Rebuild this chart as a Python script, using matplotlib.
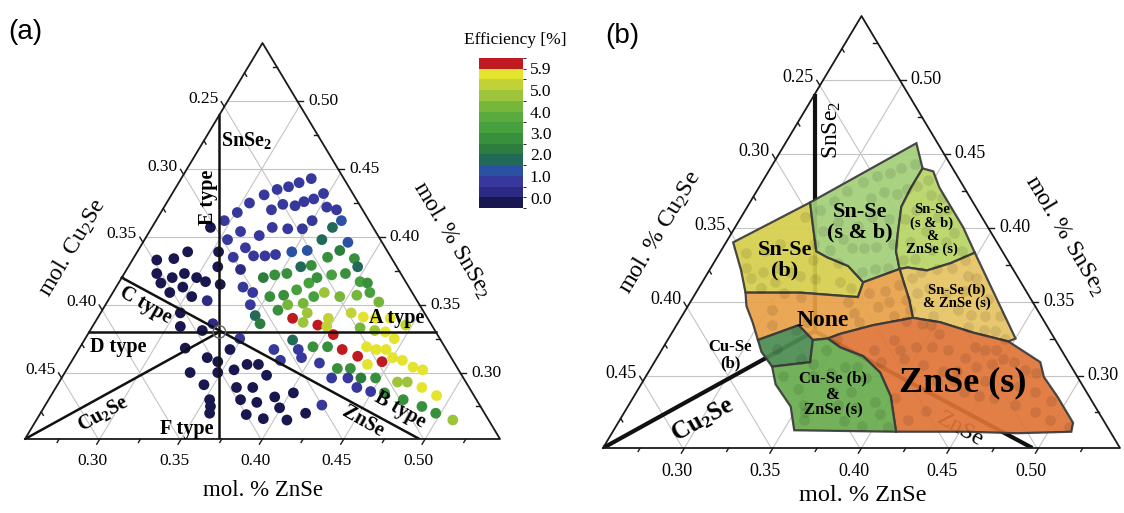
import numpy as np
import matplotlib
matplotlib.use("Agg")
import matplotlib.pyplot as plt
from matplotlib.colors import ListedColormap, BoundaryNorm
from matplotlib.cm import ScalarMappable
from matplotlib.patches import Polygon

plt.rcParams["font.family"] = "serif"
plt.rcParams["font.serif"] = ["Liberation Serif", "DejaVu Serif"]
plt.rcParams["mathtext.fontset"] = "custom"
plt.rcParams["mathtext.rm"] = "Liberation Serif"
plt.rcParams["mathtext.it"] = "Liberation Serif:italic"
plt.rcParams["mathtext.bf"] = "Liberation Serif:bold"

FIG_W, FIG_H = 1124, 513

# visible window of the ternary (mole fractions)
ZN_MIN = 0.254
SN_MIN = 0.251
SPAN = 0.292
CU_MIN = 1.0 - ZN_MIN - SN_MIN - SPAN

# ---------------- panel (a): measured points ----------------
# mol.% ZnSe, mol.% SnSe2 and efficiency (%) of every sample
ZNSE_PCT = [
    33.4, 32.8, 32.3, 31.7, 31.1, 30.5, 30.1, 29.6, 29.0,
    34.7, 34.3, 33.8, 33.4, 32.6, 32.1, 36.1, 35.4, 35.0, 34.7, 33.8, 32.8, 32.3, 31.0, 30.5,
    36.8, 36.5, 36.3, 38.0, 37.8, 35.8, 34.9, 34.0, 33.4, 32.7, 32.4, 31.5,
    33.2, 34.3, 35.0, 35.6, 34.1, 34.7, 35.4, 36.0, 36.6, 37.3, 39.0,
    35.2, 36.0, 36.6, 37.1, 37.4, 38.2, 39.0, 39.5, 40.2, 40.7,
    39.5, 40.5, 41.2, 42.1, 36.2, 36.6, 37.5, 37.9, 38.4,
    37.4, 39.2, 40.5, 41.6, 42.8, 44.5,
    38.2, 39.8, 38.1, 39.6, 40.8, 41.7, 42.5, 43.4, 44.6, 42.9, 43.6, 44.4, 41.9,
    43.0, 43.7, 44.3, 45.0, 45.7, 46.6, 47.3, 43.7, 46.2, 46.8, 47.9, 49.1, 48.6, 49.7, 51.0,
    39.7, 40.6, 42.0, 42.8, 43.8, 44.7, 45.8, 47.2,
    38.2, 38.9, 39.4, 40.7, 42.0, 43.0, 43.9, 44.9, 37.4, 38.2,
    37.9, 39.2, 40.2, 41.7, 40.8, 42.4,
    26.9, 27.9, 28.5, 30.4, 27.4, 28.5, 29.1, 30.0, 30.7, 28.0, 28.9, 29.5, 30.4, 31.5, 30.3, 30.8, 32.3, 32.7,
    34.9, 34.7, 31.9, 33.6, 34.4, 33.1, 34.4, 34.8, 35.7, 36.3, 37.0,
    35.3, 35.6, 35.8, 36.5, 37.2, 37.5, 38.3, 38.1, 39.3,
    30.9, 31.7, 31.9, 34.0, 39.9,
]
SNSE2_PCT = [
    44.3, 44.0, 43.7, 43.5, 43.1, 42.5, 41.8, 41.2, 40.7,
    43.2, 42.8, 42.6, 42.3, 42.4, 42.0, 42.0, 42.2, 41.2, 40.6, 40.6, 40.7, 40.1, 40.4, 39.8,
    41.2, 40.7, 39.8, 39.6, 39.0, 39.0, 38.9, 38.7, 38.6, 38.6, 37.6, 38.5,
    36.3, 35.0, 34.2, 33.6, 37.0, 37.2, 37.3, 37.8, 37.9, 38.5, 38.4,
    35.6, 35.7, 36.1, 36.6, 37.0, 37.2, 37.3, 37.8, 36.7, 36.6,
    35.6, 35.7, 35.9, 35.2, 34.6, 35.0, 35.1, 35.6, 35.9,
    34.0, 33.5, 32.8, 31.7, 31.2, 30.8,
    33.7, 33.4, 34.4, 34.0, 34.4, 34.1, 34.0, 34.0, 33.5, 33.1, 33.0, 32.5, 33.3,
    31.9, 31.7, 31.7, 31.1, 30.9, 30.4, 30.2, 30.6, 29.3, 29.3, 28.9, 28.3, 27.5, 27.0, 26.5,
    31.9, 31.9, 30.3, 30.3, 29.6, 29.6, 28.5, 28.0,
    32.4, 31.7, 31.1, 30.7, 29.6, 29.6, 28.9, 28.6, 31.7, 30.9,
    29.8, 28.2, 28.5, 27.0, 26.5, 27.6,
    38.3, 38.4, 38.9, 38.9, 37.3, 37.0, 37.3, 37.0, 36.7, 36.6, 35.9, 36.3, 35.6, 35.3, 34.4, 33.4, 33.1, 33.6,
    32.5, 31.7, 31.8, 31.1, 30.8, 30.0, 29.1, 30.0, 30.2, 30.6, 30.6,
    28.0, 27.5, 27.0, 28.9, 28.0, 28.9, 27.8, 26.9, 26.6,
    37.8, 36.5, 39.2, 35.9, 27.4,
]
EFFICIENCY = [
    0.7, 0.7, 0.7, 0.7, 0.7, 0.7, 0.7, 0.7, 0.0,
    0.7, 0.7, 0.7, 0.7, 0.7, 0.7, 0.7, 0.7, 0.7, 0.7, 0.7, 0.7, 0.7, 0.7, 0.7,
    1.2, 1.7, 1.7, 1.2, 2.2, 1.2, 1.2, 0.7, 0.7, 0.7, 0.3, 0.7,
    0.7, 0.7, 1.7, 2.2, 2.2, 2.8, 2.8, 1.7, 2.8, 2.8, 2.8,
    2.8, 2.8, 3.3, 3.3, 2.8, 3.3, 2.8, 1.7, 3.3, 2.8,
    4.3, 4.3, 3.3, 4.3, 2.8, 4.3, 4.3, 3.3, 4.8,
    5.9, 5.9, 5.9, 5.9, 5.9, 5.9,
    4.8, 5.2, 4.8, 5.2, 5.2, 5.7, 5.7, 5.7, 5.2, 4.8, 5.7, 5.7, 4.3,
    5.7, 5.7, 5.7, 5.7, 5.7, 5.7, 5.7, 5.7, 4.8, 4.8, 5.7, 5.7, 2.8, 2.8, 4.8,
    2.8, 2.8, 2.8, 2.8, 2.2, 2.8, 2.8, 2.8,
    1.7, 0.7, 0.7, 0.7, 0.7, 0.7, 0.7, 0.7, 0.7, 0.7,
    0.0, 0.0, 0.0, 0.0, 0.0, 0.7,
    0.0, 0.0, 0.0, 0.0, 0.0, 0.0, 0.0, 0.0, 0.0, 0.0, 0.0, 0.0, 0.0, 0.3, 0.0, 0.0, 0.0, 0.3,
    0.7, 0.0, 0.0, 0.0, 0.0, 0.0, 0.0, 0.0, 0.0, 0.0, 0.0,
    0.0, 0.0, 0.0, 0.0, 0.0, 0.0, 0.0, 0.0, 0.0,
    0.0, 0.0, 0.7, 0.7, 0.0,
]

# colour scale of the efficiency
BAND_EDGES = [-0.5, 0.05, 0.5, 1.0, 1.5, 2.0, 2.5, 3.0, 3.5, 4.0, 4.5, 5.0, 5.5, 5.85, 6.5]
BAND_COLORS = ["#18174f", "#2d2a84", "#37389b", "#2b52a2", "#23695a", "#2c7d3e", "#38903c",
               "#46a03e", "#58ab3c", "#77b63c", "#9dc43a", "#c2d236", "#e4e32e", "#be1a1f"]
CB_TICKS = [0.0, 1.0, 2.0, 3.0, 4.0, 5.0, 5.9]

# composition of the stoichiometric point and the type lines (ZnSe, SnSe2)
CENTER = (0.334, 0.330)
LINES_A = [((0.254, 0.330), (0.467, 0.330)),    # D type - A type
           ((0.254, 0.490), (0.3735, 0.251)),   # E type - F type
           ((0.254, 0.370), (0.4965, 0.251)),   # C type - B type
           ((0.254, 0.251), CENTER)]            # Cu2Se
LINES_B = [((0.254, 0.490), CENTER),            # SnSe2
           ((0.254, 0.251), CENTER),            # Cu2Se
           (CENTER, (0.4965, 0.251))]           # ZnSe

# ---------------- panel (b): phase regions (mol.% ZnSe / SnSe2) ----------------
REGION_NAMES = ["Sn-Se (b)", "Sn-Se (s & b)", "Sn-Se (s & b) & ZnSe (s)", "Sn-Se (b) & ZnSe (s)",
                "None", "ZnSe (s)", "Cu-Se (b)", "Cu-Se (b) & ZnSe (s)"]
REGION_ZN = [
    [25.8, 28.8, 29.7, 30.8, 31.6, 33.1, 34.5, 34.7, 31.3, 28.2, 27.2],
    [28.8, 32.8, 34.0, 34.0, 34.1, 34.8, 35.3, 36.1, 34.5, 33.1, 31.6, 30.8, 29.7],
    [34.0, 34.7, 35.6, 36.8, 38.3, 39.8, 38.8, 37.7, 36.5, 36.1, 35.3, 34.8, 34.1, 34.0],
    [36.1, 36.5, 37.7, 38.8, 39.8, 45.0, 44.7, 42.4, 40.2, 38.5, 37.7],
    [28.2, 31.3, 34.7, 34.5, 36.1, 37.7, 38.5, 36.5, 34.9, 34.4, 33.6, 32.3, 30.5, 29.6, 28.7],
    [34.4, 34.9, 36.5, 38.5, 40.2, 42.4, 44.7, 47.2, 47.9, 49.3, 51.1, 51.3, 48.3, 45.4,
     41.4, 39.9, 38.5, 37.0, 35.4],
    [30.5, 32.3, 33.6, 34.2, 32.2, 31.1],
    [33.6, 34.4, 35.4, 37.0, 38.5, 39.9, 41.4, 35.6, 34.6, 33.0, 32.2, 34.2],
]
REGION_SN = [
    [39.0, 41.7, 40.2, 38.4, 38.0, 37.4, 36.3, 35.3, 35.6, 35.6, 37.1],
    [41.7, 45.7, 44.0, 42.7, 41.4, 39.6, 38.4, 37.2, 36.3, 37.4, 38.0, 38.4, 40.2],
    [44.0, 43.8, 42.7, 41.5, 40.0, 38.3, 37.6, 37.1, 37.3, 37.2, 38.4, 39.6, 41.4, 42.7],
    [37.2, 37.3, 37.1, 37.6, 38.3, 32.5, 32.3, 32.9, 33.6, 33.9, 35.1],
    [35.6, 35.6, 35.3, 36.3, 37.2, 35.1, 33.9, 33.4, 32.8, 32.5, 32.4, 33.4, 32.4, 33.6, 34.7],
    [32.5, 32.8, 33.4, 33.9, 33.6, 32.9, 32.3, 30.9, 29.9, 28.6, 26.8, 26.2, 26.1, 26.2,
     26.2, 28.6, 30.2, 31.3, 31.9],
    [32.4, 33.4, 32.4, 30.9, 30.6, 31.6],
    [32.4, 32.5, 31.9, 31.3, 30.2, 28.6, 26.2, 26.3, 27.9, 29.4, 30.6, 30.9],
]
REGION_COLORS = ["#d6cf4c", "#a3cf79", "#b9d565", "#e7c463", "#e9a046",
                 "#df7437", "#4b8a50", "#67ab4c"]


def to_xy(zn, sn):
    zn = np.asarray(zn, dtype=float)
    sn = np.asarray(sn, dtype=float)
    return (zn - ZN_MIN) + 0.5 * (sn - SN_MIN), sn - SN_MIN


def unit(dx, dy):
    n = np.hypot(dx, dy)
    return dx / n, dy / n


def ternary_frame(ax, tick_fs, bottom_off):
    ax.set_xlim(0, SPAN)
    ax.set_ylim(0, SPAN)
    ax.axis("off")
    pos = ax.get_position()
    w_px, h_px = pos.width * FIG_W, pos.height * FIG_H
    kx, ky = SPAN / w_px, SPAN / h_px
    left_out = unit(-w_px / 2, h_px)
    bottom_out = unit(-w_px / 2, -h_px)
    right_out = (1.0, 0.0)

    grid_kw = dict(color="#c4c4c4", lw=0.8, zorder=1)
    for v in [0.30, 0.35, 0.40, 0.45, 0.50]:
        ax.plot(*to_xy([ZN_MIN, 1 - CU_MIN - v], [v, v]), **grid_kw)
        ax.plot(*to_xy([v, v], [SN_MIN, 1 - CU_MIN - v]), **grid_kw)
    for c in [0.25, 0.30, 0.35, 0.40, 0.45]:
        ax.plot(*to_xy([ZN_MIN, 1 - c - SN_MIN], [1 - c - ZN_MIN, SN_MIN]), **grid_kw)

    ax.plot(*to_xy([ZN_MIN, ZN_MIN + SPAN, ZN_MIN, ZN_MIN],
                   [SN_MIN, SN_MIN, SN_MIN + SPAN, SN_MIN]),
            color="#1a1a1a", lw=1.3, zorder=6, clip_on=False)

    def tick(x0, y0, d, length):
        ax.plot([x0, x0 + d[0] * length * kx], [y0, y0 + d[1] * length * ky],
                color="#1a1a1a", lw=1.0, zorder=6, clip_on=False)

    steps = np.round(np.arange(0.225, 0.53, 0.025), 3)
    for v in steps:
        major = int(round(v * 1000)) % 50 == 0
        lab = f"{v:.2f}"
        # left edge: Cu2Se
        if 0.22 <= v <= 0.48:
            x0, y0 = to_xy(ZN_MIN, 1 - v - ZN_MIN)
            if major:
                tick(x0, y0, left_out, 6)
                ax.annotate(lab, (x0, y0), xytext=(-6, 8), textcoords="offset pixels",
                            ha="right", va="center", fontsize=tick_fs)
            else:
                tick(x0, y0, (-left_out[0], -left_out[1]), 4)
        if 0.27 <= v <= 0.53:
            # right edge: SnSe2
            x0, y0 = to_xy(1 - CU_MIN - v, v)
            if major:
                tick(x0, y0, right_out, 6)
                ax.annotate(lab, (x0, y0), xytext=(11, 0), textcoords="offset pixels",
                            ha="left", va="center", fontsize=tick_fs)
            else:
                tick(x0, y0, (-1.0, 0.0), 4)
            # bottom edge: ZnSe
            x0, y0 = to_xy(v, SN_MIN)
            tick(x0, y0, bottom_out, 6 if major else 4)
            if major:
                ax.annotate(lab, (x0, y0), xytext=bottom_off, textcoords="offset pixels",
                            ha="center", va="center", fontsize=tick_fs)


fig = plt.figure(figsize=(FIG_W / 100, FIG_H / 100), dpi=100)
ax_a = fig.add_axes([25 / FIG_W, 74 / FIG_H, 475 / FIG_W, 396 / FIG_H])
ax_b = fig.add_axes([603 / FIG_W, 65 / FIG_H, 517 / FIG_W, 432 / FIG_H])

cmap = ListedColormap(BAND_COLORS)
norm = BoundaryNorm(BAND_EDGES, cmap.N)
pts_x, pts_y = to_xy(np.array(ZNSE_PCT) / 100, np.array(SNSE2_PCT) / 100)

# ---------------- (a) ----------------
ternary_frame(ax_a, 12.5, (-7, -22))
ax_a.scatter(pts_x, pts_y, c=EFFICIENCY, cmap=cmap, norm=norm, s=60, linewidths=0,
             zorder=3, clip_on=False)
for p, q in LINES_A:
    ax_a.plot(*to_xy([p[0], q[0]], [p[1], q[1]]), color="#111111", lw=1.8, zorder=4)
cx, cy = to_xy(*CENTER)
ax_a.scatter([cx], [cy], s=80, facecolors="none", edgecolors="#666666", lw=1.0, zorder=5)

bold = dict(fontweight="bold", fontsize=14.5, ha="center", va="center", zorder=7)
ax_a.text(0.467, 0.755, r"SnSe$_\mathbf{2}$", transform=ax_a.transAxes, **bold)
ax_a.text(0.385, 0.611, "E type", rotation=90, transform=ax_a.transAxes, **bold)
ax_a.text(0.253, 0.338, "C type", rotation=-29.5, transform=ax_a.transAxes, **bold)
ax_a.text(0.196, 0.232, "D type", transform=ax_a.transAxes, **bold)
ax_a.text(0.164, 0.063, r"Cu$_\mathbf{2}$Se", rotation=28.7, transform=ax_a.transAxes, **bold)
ax_a.text(0.341, 0.025, "F type", transform=ax_a.transAxes, **bold)
ax_a.text(0.783, 0.306, "A type", transform=ax_a.transAxes, **bold)
ax_a.text(0.789, 0.073, "B type", rotation=-29.5, transform=ax_a.transAxes, **bold)
ax_a.text(0.712, 0.043, "ZnSe", rotation=-29.5, transform=ax_a.transAxes, **bold)

ax_a.text(0.099, 0.482, r"mol. Cu$_2$Se", rotation=59, fontsize=17, ha="center", va="center",
          transform=ax_a.transAxes)
ax_a.text(0.899, 0.503, r"mol. % SnSe$_2$", rotation=-59, fontsize=17, ha="center", va="center",
          transform=ax_a.transAxes)
ax_a.text(0.501, -0.129, "mol. % ZnSe", fontsize=16.5, ha="center", va="center",
          transform=ax_a.transAxes)

cax = fig.add_axes([479 / FIG_W, 305 / FIG_H, 44 / FIG_W, 150 / FIG_H])
cb = fig.colorbar(ScalarMappable(norm=norm, cmap=cmap), cax=cax, ticks=CB_TICKS)
cb.set_ticklabels([f"{t:.1f}" for t in CB_TICKS])
cb.ax.tick_params(length=0, labelsize=12.5, pad=5)
cb.outline.set_visible(False)
fig.text(515 / FIG_W, 1 - 40 / FIG_H, "Efficiency [%]", fontsize=12.5, ha="center", va="center")

# ---------------- (b) ----------------
ternary_frame(ax_b, 13, (-8, -23))
for p, q in LINES_B:
    ax_b.plot(*to_xy([p[0], q[0]], [p[1], q[1]]), color="#111111", lw=3.0, zorder=2,
              solid_capstyle="butt")
ax_b.text(0.690, 0.042, "ZnSe", rotation=-29.5, fontsize=17, ha="center", va="center",
          transform=ax_b.transAxes, zorder=2)

for name, zn, sn, col in zip(REGION_NAMES, REGION_ZN, REGION_SN, REGION_COLORS):
    vx, vy = to_xy(np.array(zn) / 100, np.array(sn) / 100)
    patch = Polygon(np.column_stack([vx, vy]), closed=True, facecolor=col, alpha=0.92,
                    edgecolor="#3a3a3a", lw=1.6, zorder=3, label=name)
    ax_b.add_patch(patch)
    tex = ax_b.scatter(pts_x, pts_y, s=60, color="k", alpha=0.09, linewidths=0, zorder=3.5)
    tex.set_clip_path(patch)

lab = dict(fontweight="bold", ha="center", va="center", transform=ax_b.transAxes,
           zorder=7, linespacing=1.0)
ax_b.text(0.443, 0.736, r"SnSe$_2$", rotation=90, fontsize=17, ha="center", va="center",
          transform=ax_b.transAxes, zorder=7)
ax_b.text(0.352, 0.435, "Sn-Se\n(b)", fontsize=16, **lab)
ax_b.text(0.497, 0.523, "Sn-Se\n(s & b)", fontsize=16, **lab)
ax_b.text(0.636, 0.505, "Sn-Se\n(s & b)\n&\nZnSe (s)", fontsize=10.5, **lab)
ax_b.text(0.685, 0.350, "Sn-Se (b)\n& ZnSe (s)", fontsize=10.5, **lab)
ax_b.text(0.426, 0.296, "None", fontsize=17, **lab)
ax_b.text(0.696, 0.150, "ZnSe (s)", fontsize=26, **lab)
ax_b.text(0.246, 0.215, "Cu-Se\n(b)", fontsize=12, **lab)
ax_b.text(0.445, 0.123, "Cu-Se (b)\n&\nZnSe (s)", fontsize=12, **lab)
ax_b.text(0.193, 0.065, r"Cu$_\mathbf{2}$Se", rotation=29, fontsize=18, **lab)

ax_b.text(0.110, 0.498, r"mol. % Cu$_2$Se", rotation=59, fontsize=17.5, ha="center",
          va="center", transform=ax_b.transAxes)
ax_b.text(0.894, 0.493, r"mol. % SnSe$_2$", rotation=-59, fontsize=17.5, ha="center",
          va="center", transform=ax_b.transAxes)
ax_b.text(0.503, -0.109, "mol. % ZnSe", fontsize=17.5, ha="center", va="center",
          transform=ax_b.transAxes)

fig.text(8 / FIG_W, 1 - 32 / FIG_H, "(a)", fontsize=20, family="Liberation Sans",
         ha="left", va="center")
fig.text(605 / FIG_W, 1 - 36 / FIG_H, "(b)", fontsize=20, family="Liberation Sans",
         ha="left", va="center")

fig.savefig("out.png", dpi=100)
